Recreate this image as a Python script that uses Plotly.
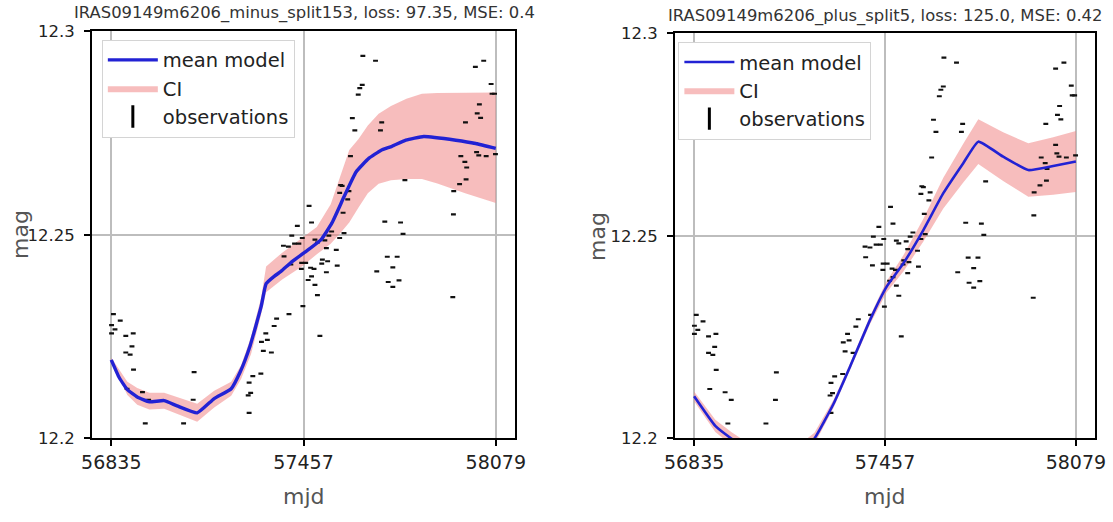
import plotly.graph_objects as go

# ---- light-curve data (mjd vs. magnitude) ----
obs_mjd = [
    56842, 56836, 56864, 56836, 56847, 56882, 56906, 56902, 56882, 56896,
    56907, 56886, 56936, 56956, 56945, 57069, 57103, 57100, 57281, 57286,
    57278, 57281, 57293, 57319, 57321, 57340, 57335, 57327, 57353, 57362,
    57370, 57410, 57609, 57577, 57582, 57574, 57604, 57600, 57585, 57475,
    57483, 57437, 57419, 57453, 57442, 57428, 57408, 57392, 57394, 57416,
    57451, 57464, 57450, 57480, 57491, 57518, 57535, 57516, 57531, 57483,
    57472, 57494, 57502, 57455, 57566, 57563, 57574, 57588, 57548, 57531,
    57494, 57502, 57539, 57526, 57720, 57771, 57779, 57728, 57760, 57746,
    57694, 57731, 57766, 57746, 57940, 57942, 57943, 57962, 57983, 57985,
    57979, 57966, 58024, 58048, 58078, 57785, 57510, 57649, 57690, 57647,
    57639, 57634, 57615, 57623, 57710, 57706, 58040, 58013, 58064, 58067,
    58075, 58026, 58019, 58030, 57981, 58013, 58017,
]
obs_mag = [
    12.2305, 12.2278, 12.2289, 12.2258, 12.2268, 12.2252, 12.2258, 12.2226, 12.2211, 12.2206,
    12.2169, 12.2122, 12.2114, 12.2095, 12.2037, 12.2037, 12.2163, 12.2095, 12.2137, 12.2112,
    12.2106, 12.2063, 12.2153, 12.2159, 12.2237, 12.2242, 12.2258, 12.2215, 12.2211, 12.2276,
    12.2294, 12.2305, 12.2693, 12.2622, 12.2620, 12.2603, 12.2607, 12.2587, 12.2554, 12.2571,
    12.2530, 12.2522, 12.2498, 12.2492, 12.2478, 12.2478, 12.2471, 12.2473, 12.2447, 12.2427,
    12.2431, 12.2431, 12.2416, 12.2419, 12.2416, 12.2439, 12.2435, 12.2429, 12.2408, 12.2398,
    12.2389, 12.2377, 12.2352, 12.2325, 12.2424, 12.2463, 12.2492, 12.2504, 12.2508, 12.2467,
    12.2488, 12.2481, 12.2498, 12.2486, 12.2532, 12.2530, 12.2502, 12.2446, 12.2446, 12.2420,
    12.2410, 12.2384, 12.2388, 12.2372, 12.2347, 12.2550, 12.2607, 12.2624, 12.2636, 12.2665,
    12.2679, 12.2693, 12.2695, 12.2693, 12.2698, 12.2634, 12.2252, 12.2939, 12.2927, 12.2868,
    12.2860, 12.2844, 12.2786, 12.2756, 12.2776, 12.2756, 12.2927, 12.2912, 12.2870, 12.2846,
    12.2846, 12.2820, 12.2798, 12.2787, 12.2776, 12.2724, 12.2703,
]

# model fitted on the "minus" split
minus_mjd = [56835, 56861, 56887, 56919, 56958, 57006, 57048, 57113, 57168, 57223,
             57252, 57284, 57320, 57336, 57362, 57384, 57420, 57465, 57514, 57549,
             57588, 57627, 57669, 57707, 57743, 57788, 57846, 57950, 58014, 58079]
minus_mean = [12.2193, 12.2149, 12.2120, 12.2102, 12.2090, 12.2093, 12.2080, 12.2063, 12.2098, 12.2122,
              12.2163, 12.2227, 12.2324, 12.2380, 12.2398, 12.2410, 12.2434, 12.2459, 12.2488, 12.2529,
              12.2593, 12.2654, 12.2688, 12.2707, 12.2717, 12.2732, 12.2741, 12.2732, 12.2724, 12.2712]
minus_ci_mjd = [56835, 56887, 56919, 56958, 57006, 57048, 57113, 57168, 57223, 57255,
                57287, 57320, 57336, 57388, 57452, 57500, 57545, 57575, 57605, 57635,
                57665, 57700, 57740, 57790, 57840, 57890, 57980, 58079]
minus_ci_lo = [12.2188, 12.2107, 12.2083, 12.2071, 12.2073, 12.2061, 12.2041, 12.2076, 12.2105, 12.2146,
               12.2207, 12.2305, 12.2359, 12.2390, 12.2422, 12.2452, 12.2478, 12.2503, 12.2530, 12.2567,
               12.2602, 12.2625, 12.2634, 12.2637, 12.2637, 12.2626, 12.2602, 12.2578]
minus_ci_hi = [12.2198, 12.2139, 12.2124, 12.2112, 12.2112, 12.2102, 12.2085, 12.2117, 12.2139, 12.2180,
               12.2249, 12.2346, 12.2422, 12.2456, 12.2493, 12.2519, 12.2575, 12.2640, 12.2708, 12.2735,
               12.2768, 12.2797, 12.2816, 12.2834, 12.2846, 12.2848, 12.2849, 12.2849]

# model fitted on the "plus" split
plus_mjd = [56835, 56904, 56956, 57000, 57050, 57100, 57150, 57190, 57227, 57289,
            57343, 57408, 57462, 57517, 57582, 57647, 57712, 57761, 57842, 57924,
            58005, 58079]
plus_mean = [12.2104, 12.2031, 12.2000, 12.1978, 12.1962, 12.1955, 12.1962, 12.1978, 12.2000, 12.2085,
             12.2177, 12.2292, 12.2374, 12.2432, 12.2514, 12.2605, 12.2679, 12.2732, 12.2695, 12.2662,
             12.2672, 12.2683]
plus_ci_lo = [12.2092, 12.2016, 12.1984, 12.1962, 12.1946, 12.1939, 12.1947, 12.1964, 12.1986, 12.2075,
              12.2169, 12.2282, 12.2360, 12.2412, 12.2486, 12.2567, 12.2631, 12.2677, 12.2635, 12.2596,
              12.2601, 12.2608]
plus_ci_hi = [12.2116, 12.2046, 12.2016, 12.1994, 12.1978, 12.1971, 12.1977, 12.1992, 12.2014, 12.2095,
              12.2185, 12.2302, 12.2388, 12.2452, 12.2542, 12.2643, 12.2727, 12.2787, 12.2755, 12.2728,
              12.2743, 12.2758]

x_ticks = [56835, 57457, 58079]
y_ticks = [12.2, 12.25, 12.3]
y_tick_text = ["12.2", "12.25", "12.3"]
titles = ["IRAS09149m6206_minus_split153, loss: 97.35, MSE: 0.4",
          "IRAS09149m6206_plus_split5, loss: 125.0, MSE: 0.42"]
x_title = "mjd"
y_title = "mag"

FONT = "DejaVu Sans"
LINE_BLUE = "#2222d4"
CI_FILL = "rgba(240,128,128,0.52)"

panels = [
    dict(mjd=minus_mjd, mean=minus_mean, ci_mjd=minus_ci_mjd, lo=minus_ci_lo, hi=minus_ci_hi,
         xa="x", ya="y", legend="legend", lw=3.4),
    dict(mjd=plus_mjd, mean=plus_mean, ci_mjd=plus_mjd, lo=plus_ci_lo, hi=plus_ci_hi,
         xa="x2", ya="y2", legend="legend2", lw=2.6),
]

fig = go.Figure()
for i, p in enumerate(panels):
    common = dict(xaxis=p["xa"], yaxis=p["ya"], legend=p["legend"])
    fig.add_trace(go.Scatter(x=p["ci_mjd"], y=p["lo"], mode="lines", line=dict(width=0),
                             showlegend=False, hoverinfo="skip", **common))
    fig.add_trace(go.Scatter(x=p["ci_mjd"], y=p["hi"], mode="lines", line=dict(width=0),
                             fill="tonexty", fillcolor=CI_FILL, name="CI",
                             legendgroup=f"ci{i}", legendrank=2, **common))
    fig.add_trace(go.Scatter(x=obs_mjd, y=obs_mag, mode="markers", showlegend=False,
                             marker=dict(symbol="line-ew", size=3.5, color="#111",
                                         line=dict(width=2.2, color="#111")), **common))
    fig.add_trace(go.Scatter(x=p["mjd"], y=p["mean"], mode="lines", name="mean model",
                             line=dict(color=LINE_BLUE, width=p["lw"], shape="spline", smoothing=0.4),
                             legendgroup=f"mean{i}", legendrank=1, **common))
    # legend-only entry: vertical bar for the observations
    fig.add_trace(go.Scatter(x=[None], y=[None], mode="markers", name="observations",
                             marker=dict(symbol="line-ns", size=16, color="black",
                                         line=dict(width=3, color="black")),
                             legendgroup=f"obs{i}", legendrank=3, **common))

x_range = [56772.8, 58141.2]
y_range = [12.2, 12.3]

def xaxis(domain, anchor):
    return dict(domain=domain, anchor=anchor, range=x_range, tickvals=x_ticks,
                ticktext=[str(v) for v in x_ticks], automargin=False, showgrid=True,
                gridcolor="#bdbdbd", gridwidth=1.5, zeroline=False, showline=True,
                linecolor="black", linewidth=2, mirror=True, ticks="outside", ticklen=6,
                tickwidth=1.5, tickcolor="black",
                tickfont=dict(family=FONT, size=19, color="#222"))

def yaxis(domain, anchor):
    return dict(domain=domain, anchor=anchor, range=y_range, tickvals=y_ticks,
                ticktext=y_tick_text, automargin=False, showgrid=True, gridcolor="#bdbdbd",
                gridwidth=1.5, zeroline=False, showline=True, linecolor="black", linewidth=2,
                mirror=True, ticks="outside", ticklen=6, tickwidth=1.5, tickcolor="black",
                ticklabelstandoff=6,
                tickfont=dict(family=FONT, size=16.5, color="#222"))

legend_style = dict(bgcolor="white", bordercolor="#d4d4d4", borderwidth=1,
                    font=dict(family=FONT, size=19.5, color="#222"), itemwidth=50,
                    xanchor="left", yanchor="top", traceorder="grouped", tracegroupgap=0)

def label(text, x, y, size, color, angle=0):
    return dict(text=text, x=x / 1113, y=1 - y / 522, xref="paper", yref="paper",
                xanchor="center", yanchor="middle", showarrow=False, textangle=angle,
                font=dict(family=FONT, size=size, color=color))

fig.update_layout(
    width=1113, height=522,
    margin=dict(l=0, r=0, t=0, b=0, autoexpand=False),
    paper_bgcolor="white", plot_bgcolor="white",
    xaxis=xaxis([0.0827, 0.4627], "y"),
    yaxis=yaxis([0.1600, 0.9406], "x"),
    xaxis2=xaxis([0.6065, 0.9838], "y2"),
    yaxis2=yaxis([0.1600, 0.9368], "x2"),
    legend=dict(x=0.0915, y=0.924, **legend_style),
    legend2=dict(x=0.6095, y=0.920, **legend_style),
    annotations=[
        label(titles[0], 304, 13, 16.4, "#333"),
        label(titles[1], 885, 16, 16.4, "#333"),
        label(x_title, 304, 496, 22, "#555"),
        label(x_title, 885, 496, 22, "#555"),
        label(y_title, 20, 235, 22, "#555", -90),
        label(y_title, 597, 237, 22, "#555", -90),
    ],
)

fig.write_html("out.html")
